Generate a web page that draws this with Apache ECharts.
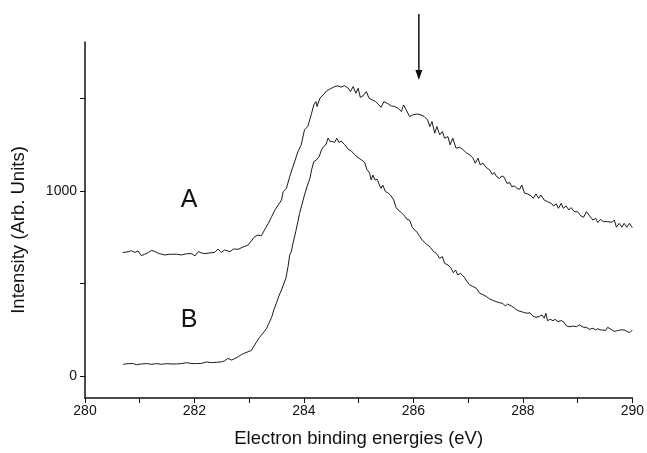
<!DOCTYPE html>
<html>
<head>
<meta charset="utf-8">
<script src="https://cdn.jsdelivr.net/npm/echarts@6/dist/echarts.min.js"></script>
<style>
  html, body { margin: 0; padding: 0; background: #fff; }
  #chart { width: 647px; height: 453px; }
</style>
</head>
<body>
<div id="chart"></div>
<script>
// C 1s spectra: binding energy (eV) against intensity (arb. units)
const energyA = [280.69,280.79,280.85,280.91,280.97,281.03,281.09,281.16,281.22,281.28,281.34,281.40,281.46,281.55,281.67,281.76,281.86,281.95,282.01,282.07,282.13,282.19,282.28,282.37,282.43,282.49,282.55,282.65,282.71,282.80,282.89,282.98,283.04,283.10,283.16,283.22,283.28,283.35,283.41,283.47,283.53,283.59,283.62,283.68,283.74,283.80,283.89,283.95,284.01,284.07,284.14,284.18,284.22,284.24,284.29,284.35,284.42,284.47,284.56,284.62,284.68,284.74,284.81,284.85,284.90,284.95,284.99,285.03,285.08,285.14,285.19,285.25,285.31,285.37,285.41,285.46,285.52,285.60,285.66,285.72,285.78,285.82,285.87,285.93,285.99,286.06,286.14,286.20,286.26,286.30,286.34,286.39,286.43,286.48,286.53,286.57,286.63,286.67,286.72,286.78,286.84,286.90,286.96,287.03,287.09,287.13,287.18,287.22,287.27,287.33,287.39,287.44,287.48,287.52,287.57,287.62,287.66,287.71,287.76,287.80,287.85,287.89,287.94,287.98,288.03,288.09,288.15,288.19,288.24,288.29,288.33,288.39,288.45,288.52,288.56,288.61,288.65,288.70,288.74,288.79,288.84,288.88,288.94,289.00,289.06,289.11,289.16,289.22,289.28,289.33,289.37,289.42,289.47,289.55,289.63,289.67,289.71,289.76,289.81,289.85,289.90,289.95,290.00];
const intensityA = [667,672,677,668,676,650,658,668,679,672,663,658,654,658,658,654,661,661,649,672,665,661,665,668,686,668,681,672,686,685,697,708,730,753,762,757,789,825,861,897,924,951,996,1014,1077,1131,1212,1249,1330,1348,1420,1465,1483,1456,1501,1519,1542,1550,1564,1568,1561,1569,1555,1537,1564,1528,1555,1506,1514,1537,1501,1492,1483,1465,1452,1483,1474,1459,1456,1447,1429,1465,1438,1402,1411,1416,1411,1402,1384,1348,1375,1312,1348,1303,1321,1285,1294,1249,1285,1231,1236,1225,1207,1195,1177,1150,1177,1141,1150,1127,1115,1090,1099,1077,1068,1081,1074,1041,1045,1023,1027,1014,1009,1032,988,984,973,960,984,960,978,951,942,933,919,930,906,933,906,919,897,910,888,888,865,858,888,865,843,852,829,847,834,834,831,843,804,825,804,825,804,825,802];

const energyB = [280.70,280.79,280.88,280.94,281.03,281.13,281.22,281.31,281.40,281.49,281.58,281.67,281.76,281.86,281.95,282.04,282.13,282.22,282.31,282.40,282.49,282.55,282.61,282.68,282.74,282.80,282.86,282.92,282.98,283.04,283.08,283.13,283.19,283.25,283.32,283.36,283.41,283.45,283.50,283.55,283.59,283.63,283.67,283.71,283.74,283.77,283.80,283.85,283.89,283.92,283.97,284.01,284.06,284.11,284.14,284.18,284.23,284.28,284.32,284.36,284.40,284.44,284.48,284.52,284.56,284.60,284.64,284.68,284.74,284.77,284.81,284.87,284.93,284.99,285.05,285.11,285.15,285.20,285.23,285.26,285.30,285.34,285.38,285.41,285.44,285.49,285.53,285.58,285.64,285.68,285.72,285.78,285.84,285.88,285.93,285.98,286.02,286.06,286.11,286.16,286.22,286.26,286.31,286.37,286.42,286.48,286.53,286.57,286.63,286.69,286.73,286.77,286.81,286.86,286.89,286.93,286.98,287.03,287.09,287.15,287.21,287.27,287.33,287.39,287.45,287.51,287.57,287.63,287.68,287.72,287.79,287.85,287.91,287.97,288.03,288.09,288.13,288.18,288.24,288.30,288.35,288.39,288.42,288.45,288.50,288.55,288.59,288.64,288.70,288.74,288.80,288.86,288.92,288.98,289.03,289.06,289.11,289.16,289.22,289.28,289.33,289.37,289.41,289.46,289.51,289.55,289.61,289.67,289.73,289.79,289.85,289.91,289.95,290.00];
const intensityB = [63,67,67,61,65,67,63,67,63,67,65,65,67,72,67,67,68,76,72,74,76,81,95,86,95,104,116,124,131,138,158,182,209,231,258,285,317,357,396,438,465,497,528,591,654,672,717,780,834,879,933,978,1027,1068,1114,1158,1168,1186,1222,1240,1249,1285,1267,1267,1262,1285,1262,1270,1252,1249,1225,1215,1195,1180,1168,1154,1117,1096,1059,1086,1059,1063,1032,1014,1032,996,991,978,951,912,897,883,865,847,843,804,789,780,757,735,717,708,695,672,663,636,645,609,600,582,558,573,546,555,546,534,510,492,483,474,447,440,430,417,409,402,396,393,378,389,378,366,353,348,342,339,342,324,317,321,330,312,339,299,306,299,306,294,299,294,270,266,270,266,276,285,263,263,252,258,249,256,249,249,245,263,252,241,245,249,249,240,234,249];

// axis ticks and labels
const xTickLabels = [280, 282, 284, 286, 288, 290];
const yTickValues = [0, 500, 1000, 1500];
const yTickLabels = [0, 1000];

// curve labels and the marker arrow, in data coordinates
const curveLabels = [
  { text: 'A', x: 281.9, y: 950 },
  { text: 'B', x: 281.9, y: 300 }
];
const arrowEnergy = 286.1;
const arrowStart = 1957;
const arrowTip = 1600;

const zip = (xs, ys) => xs.map((x, i) => [x, ys[i]]);

const FONT = 'Liberation Sans, Arial, sans-serif';
const INK = '#111';

const chart = echarts.init(document.getElementById('chart'), null, { renderer: 'canvas' });

chart.setOption({
  backgroundColor: '#fff',
  animation: false,
  grid: { left: 85, right: 14, top: 42, bottom: 55 },
  xAxis: {
    type: 'value',
    min: 280,
    max: 290,
    interval: 1,
    name: 'Electron binding energies (eV)',
    nameLocation: 'middle',
    nameGap: 31,
    nameTextStyle: { fontFamily: FONT, fontSize: 18.5, color: INK },
    axisLine: { show: true, onZero: false, lineStyle: { color: INK, width: 1.5 } },
    axisTick: { show: true, inside: false, length: 5, lineStyle: { color: INK, width: 1 } },
    axisLabel: {
      fontFamily: FONT, fontSize: 14, color: INK, margin: 6,
      formatter: v => (xTickLabels.indexOf(v) >= 0 ? String(v) : '')
    },
    splitLine: { show: false }
  },
  yAxis: {
    type: 'value',
    min: -119,
    max: 1805,
    name: 'Intensity (Arb. Units)',
    nameLocation: 'middle',
    nameGap: 57,
    nameTextStyle: { fontFamily: FONT, fontSize: 18.5, color: INK, padding: [0, 20, 0, 0] },
    axisLine: { show: true, onZero: false, lineStyle: { color: INK, width: 1.5 } },
    axisTick: { show: true, inside: false, length: 5, customValues: yTickValues, lineStyle: { color: INK, width: 1 } },
    axisLabel: {
      fontFamily: FONT, fontSize: 14, color: INK, margin: 8, customValues: yTickLabels,
      formatter: v => String(v)
    },
    splitLine: { show: false }
  },
  series: [
    {
      name: 'A', type: 'line', data: zip(energyA, intensityA),
      showSymbol: false, symbol: 'none',
      lineStyle: { color: '#1a1a1a', width: 1 }
    },
    {
      name: 'B', type: 'line', data: zip(energyB, intensityB),
      showSymbol: false, symbol: 'none',
      lineStyle: { color: '#1a1a1a', width: 1 }
    }
  ]
});

// curve letters and the arrow are placed through the grid's own scales
const toPx = p => chart.convertToPixel({ gridIndex: 0 }, p);
const arrowFrom = toPx([arrowEnergy, arrowStart]);
const arrowTo = toPx([arrowEnergy, arrowTip]);

const graphics = curveLabels.map(l => {
  const p = toPx([l.x, l.y]);
  return {
    type: 'text', x: p[0], y: p[1],
    style: { text: l.text, font: '25px ' + FONT, fill: INK, align: 'center', verticalAlign: 'middle' }
  };
});
graphics.push({
  type: 'line',
  shape: { x1: arrowFrom[0], y1: arrowFrom[1], x2: arrowTo[0], y2: arrowTo[1] - 8 },
  style: { stroke: INK, lineWidth: 1.5 }
});
graphics.push({
  type: 'polygon',
  shape: { points: [[arrowTo[0] - 3.5, arrowTo[1] - 10], [arrowTo[0] + 3.5, arrowTo[1] - 10], [arrowTo[0], arrowTo[1]]] },
  style: { fill: INK }
});
chart.setOption({ graphic: graphics });
</script>
</body>
</html>
